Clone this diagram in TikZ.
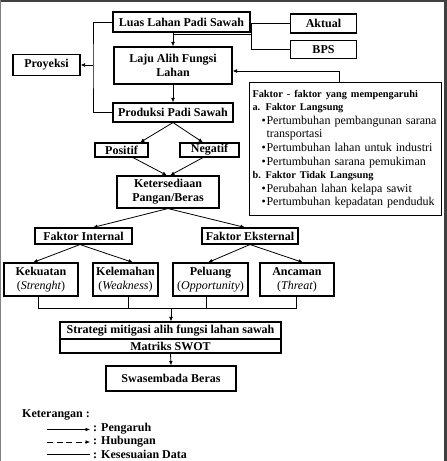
\documentclass[tikz,border=0pt]{standalone}
\usepackage{fontspec}
\setmainfont{Liberation Serif}
\usetikzlibrary{arrows.meta}

\tikzset{
  kotak/.style={draw, line width=1.1pt, inner sep=1pt, align=center,
    font=\fontsize{12}{14}\selectfont\bfseries},
  panah/.style={-{Latex[length=4.5pt,width=3.8pt]}, line width=0.8pt},
  garis/.style={line width=0.8pt},
  legenda/.style={anchor=west, inner sep=0pt, font=\fontsize{12}{14}\selectfont\bfseries},
}
\newcommand{\butir}{\hspace*{9pt}\makebox[5pt][l]{\textbullet}}
\newcommand{\judulf}{\fontsize{10.3}{13.6}\selectfont\bfseries}

\begin{document}
\begin{tikzpicture}[x=1pt,y=-1pt]
  \useasboundingbox (0,0) rectangle (447,461);

  % bingkai
  \draw[black!75, line width=2.5pt] (0,1.2) -- (447,1.2);
  \draw[black!50, line width=1pt] (0.5,0) -- (0.5,461);
  \draw[black!75, line width=2.5pt] (445.7,0) -- (445.7,461);

  % kotak utama
  \node[kotak, minimum width=137pt, minimum height=20pt] (luas) at (181.5,22) {Luas Lahan Padi Sawah};
  \node[kotak, minimum width=66pt, minimum height=19pt] (aktual) at (323.5,23.5) {Aktual};
  \node[kotak, minimum width=66pt, minimum height=18pt] (bps) at (323.5,49.5) {BPS};
  \node[kotak, minimum width=67pt, minimum height=21pt] (proyeksi) at (46.5,65) {Proyeksi};
  \node[kotak, minimum width=118pt, minimum height=37pt] (laju) at (173,65.5) {Laju Alih Fungsi\\Lahan};
  \node[kotak, minimum width=120pt, minimum height=19pt] (produksi) at (173,112.5) {Produksi Padi Sawah};
  \node[kotak, minimum width=53pt, minimum height=14pt] (positif) at (121.5,150) {Positif};
  \node[kotak, minimum width=59pt, minimum height=14pt] (negatif) at (209.5,150) {Negatif};
  \node[kotak, minimum width=102pt, minimum height=32pt] (keter) at (168,192) {Ketersediaan\\Pangan/Beras};
  \node[kotak, minimum width=97pt, minimum height=16pt] (finternal) at (83.5,236) {Faktor Internal};
  \node[kotak, minimum width=96pt, minimum height=16pt] (feksternal) at (250,236) {Faktor Eksternal};
  \node[kotak, minimum width=74pt, minimum height=33pt] (kekuatan) at (41,279.5) {Kekuatan\\\textnormal{(\textit{Strenght})}};
  \node[kotak, minimum width=65pt, minimum height=33pt] (kelemahan) at (125.5,279.5) {Kelemahan\\\textnormal{(\textit{Weakness})}};
  \node[kotak, minimum width=75pt, minimum height=33pt] (peluang) at (210.5,279.5) {Peluang\\\textnormal{(\textit{Opportunity})}};
  \node[kotak, minimum width=74pt, minimum height=33pt] (ancaman) at (297,279.5) {Ancaman\\\textnormal{(\textit{Threat})}};
  \node[kotak, minimum width=221pt, minimum height=17pt] (strat1) at (170.5,330.5) {Strategi mitigasi alih fungsi lahan sawah};
  \node[kotak, minimum width=221pt, minimum height=14pt] (strat2) at (170.5,346) {Matriks SWOT};
  \node[kotak, minimum width=130pt, minimum height=25pt] (swasembada) at (171,378.5) {Swasembada Beras};

  % faktor yang mempengaruhi
  \node[draw, line width=1.1pt, anchor=north west, text width=186pt, minimum height=133pt,
    inner xsep=3pt, inner ysep=3pt, align=left, font=\fontsize{12}{13.6}\selectfont] (faktor) at (249,82) {%
    {\judulf Faktor - faktor yang mempengaruhi}\\
    {\judulf\makebox[13pt][l]{a.}Faktor Langsung}\\
    \butir Pertumbuhan pembangunan sarana\\
    \hspace*{14pt}transportasi\\
    \butir Pertumbuhan lahan untuk industri\\
    \butir Pertumbuhan sarana pemukiman\\
    {\judulf\makebox[13pt][l]{b.}Faktor Tidak Langsung}\\
    \butir Perubahan lahan kelapa sawit\\
    \butir Pertumbuhan kepadatan penduduk};

  % hubungan antar kotak
  \draw[panah] (laju.north |- luas.south) -- (laju.north);
  \coordinate (data) at (251,34);
  \draw[garis] (laju.north |- data) -- (data);
  \draw[garis] (aktual.west) -- (aktual.west -| data) -- (bps.west -| data) -- (bps.west);

  \coordinate (kiri) at (93,65);
  \draw[garis] (luas.west) -| (kiri) |- (produksi.west);
  \draw[panah] (kiri) -- (proyeksi.east);

  \coordinate (fk) at (339,71);
  \draw[panah] (faktor.north -| fk) -- (fk) -- (laju.east |- fk);

  \draw[panah] (laju.south) -- (produksi.north);
  \draw[panah] (produksi.south) -- ([xshift=18.5pt]positif.north);
  \draw[panah] (produksi.south) -- ([xshift=-6.5pt]negatif.north);
  \draw[panah] ([xshift=11.5pt]positif.south) -- ([xshift=-1pt]keter.north);
  \draw[panah] ([xshift=-6.5pt]negatif.south) -- ([xshift=2pt]keter.north);
  \draw[panah] (keter.south) -- ([xshift=9.5pt]finternal.north);
  \draw[panah] (keter.south) -- ([xshift=-5pt]feksternal.north);
  \draw[panah] ([xshift=-3.5pt]finternal.south) -- ([xshift=-8pt]kekuatan.north);
  \draw[panah] ([xshift=-3.5pt]finternal.south) -- ([xshift=7.5pt]kelemahan.north);
  \draw[panah] (feksternal.south) -- ([xshift=-2.5pt]peluang.north);
  \draw[panah] (feksternal.south) -- ([xshift=6pt]ancaman.north);

  % gabungan SWOT
  \coordinate (bus) at (171,308);
  \draw[garis] ([xshift=-3pt]kekuatan.south) -- ++(0,12) -| ([xshift=-1pt]ancaman.south);
  \draw[garis] ([xshift=2.5pt]kelemahan.south) -- ++(0,12);
  \draw[garis] ([xshift=-4.5pt]peluang.south) -- ++(0,12);
  \draw[panah] (bus) -- (bus |- strat1.north);
  \draw[panah] (strat2.south) -- (swasembada.north);

  % keterangan
  \node[legenda] (ket) at (22,415) {Keterangan :};
  \coordinate (l1a) at (47,429.5);
  \coordinate (l1b) at (90,429.5);
  \coordinate (l2a) at (47,442);
  \coordinate (l2b) at (90,442);
  \coordinate (l3a) at (47,454.5);
  \coordinate (l3b) at (90,454.5);
  \draw[panah, line width=0.6pt] (l1a) -- (l1b);
  \draw[panah, line width=0.6pt, dash pattern=on 6pt off 3.5pt] (l2a) -- (l2b);
  \draw[garis, line width=0.6pt] (l3a) -- (l3b);
  \node[legenda] (pengaruh) at (93,429) {: Pengaruh};
  \node[legenda] (hubungan) at (93,441.5) {: Hubungan};
  \node[legenda] (kesesuaian) at (93,454) {: Kesesuaian Data};
\end{tikzpicture}
\end{document}
